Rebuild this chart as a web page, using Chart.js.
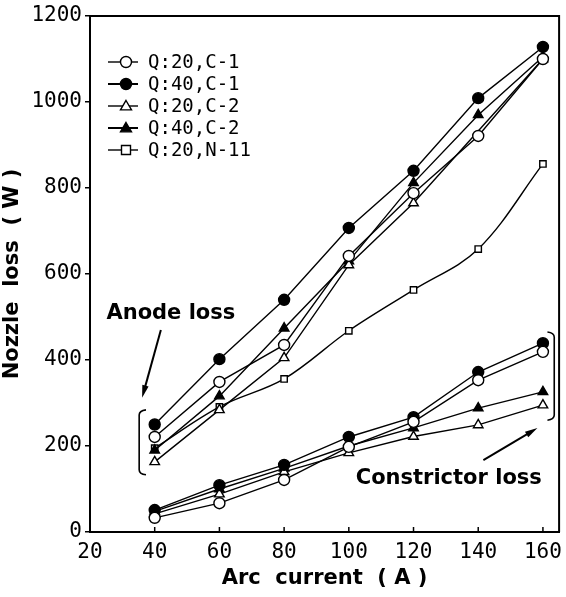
<!DOCTYPE html>
<html>
<head>
<meta charset="utf-8">
<script src="https://cdn.jsdelivr.net/npm/chart.js@4/dist/chart.umd.min.js"></script>
<style>
  html, body { margin: 0; padding: 0; background: #fff; }
  #wrap { width: 566px; height: 597px; }
</style>
</head>
<body>
<div id="wrap"><canvas id="c" width="566" height="597"></canvas></div>
<script>
// arc current (A)
const current = [40, 60, 80, 100, 120, 140, 160];

// anode loss (W)
const anodeQ20C1 = [221, 349, 435, 642, 788, 921, 1100];
const anodeQ40C1 = [250, 402, 540, 707, 840, 1009, 1128];
const anodeQ20C2 = [163, 284, 405, 621, 765, null, 1100];
const anodeQ40C2 = [190, 316, 474, 630, 812, 970, 1105];
const anodeQ20N11 = [195, 291, 356, 468, 563, 658, 856];

// constrictor loss (W)
const constrQ20C1 = [33, 67, 121, 198, 256, 353, 419];
const constrQ40C1 = [51, 109, 156, 221, 267, 372, 439];
const constrQ20C2 = [42, 88, 140, 184, 222, 249, 295];
const constrQ40C2 = [48, 100, 148, 200, 242, 288, 326];

const legendLabels = ["Q:20,C-1", "Q:40,C-1", "Q:20,C-2", "Q:40,C-2", "Q:20,N-11"];
const xTicks = [20, 40, 60, 80, 100, 120, 140, 160];
const yTicks = [0, 200, 400, 600, 800, 1000, 1200];

const TICK_FONT = { family: "DejaVu Sans Mono", size: 21 };
const TITLE_FONT = { family: "DejaVu Sans", size: 21, weight: "bold" };

const styles = [
  { pointStyle: "circle", radius: 5.5, fill: "#fff" },
  { pointStyle: "circle", radius: 5.5, fill: "#000" },
  { pointStyle: "triangle", radius: 5.5, fill: "#fff" },
  { pointStyle: "triangle", radius: 5.5, fill: "#000" },
  { pointStyle: "rect", radius: 4.5, fill: "#fff" },
];

function series(values, style, smooth) {
  return {
    data: current.map((x, i) => ({ x, y: values[i] })),
    borderColor: "#000",
    borderWidth: 1.4,
    pointStyle: style.pointStyle,
    pointRadius: style.radius,
    pointBackgroundColor: style.fill,
    pointBorderColor: "#000",
    pointBorderWidth: 1.4,
    spanGaps: true,
    tension: smooth ? 0.35 : 0,
  };
}

const datasets = [
  series(anodeQ20C1, styles[0]),
  series(anodeQ40C1, styles[1]),
  series(anodeQ20C2, styles[2]),
  series(anodeQ40C2, styles[3]),
  series(anodeQ20N11, styles[4], true),
  series(constrQ20C1, styles[0]),
  series(constrQ40C1, styles[1]),
  series(constrQ20C2, styles[2]),
  series(constrQ40C2, styles[3]),
];

function arrow(ctx, x1, y1, x2, y2) {
  const a = Math.atan2(y2 - y1, x2 - x1);
  ctx.beginPath();
  ctx.moveTo(x1, y1);
  ctx.lineTo(x2 - 8 * Math.cos(a), y2 - 8 * Math.sin(a));
  ctx.lineWidth = 2;
  ctx.stroke();
  ctx.beginPath();
  ctx.moveTo(x2, y2);
  ctx.lineTo(x2 - 13 * Math.cos(a - 0.25), y2 - 13 * Math.sin(a - 0.25));
  ctx.lineTo(x2 - 13 * Math.cos(a + 0.25), y2 - 13 * Math.sin(a + 0.25));
  ctx.closePath();
  ctx.fill();
}

// frame, x tick marks + labels, annotations and the line+marker legend
const extras = {
  id: "extras",
  afterDraw(chart) {
    const { ctx, chartArea: a, scales } = chart;
    const px = (v) => scales.x.getPixelForValue(v);
    const py = (v) => scales.y.getPixelForValue(v);
    ctx.save();
    ctx.strokeStyle = "#000";
    ctx.fillStyle = "#000";

    ctx.lineWidth = 2;
    ctx.beginPath();
    ctx.moveTo(a.left, a.top);
    ctx.lineTo(a.right, a.top);
    ctx.lineTo(a.right, a.bottom);
    ctx.stroke();

    // x ticks point inwards; labels drawn here so they may overhang the right edge
    ctx.lineWidth = 1.5;
    ctx.font = `${TICK_FONT.size}px '${TICK_FONT.family}'`;
    ctx.textAlign = "center";
    ctx.textBaseline = "middle";
    xTicks.forEach((t) => {
      if (t > xTicks[0]) {
        ctx.beginPath();
        ctx.moveTo(px(t), a.bottom);
        ctx.lineTo(px(t), a.bottom - 5);
        ctx.stroke();
      }
      ctx.fillText(String(t), px(t), a.bottom + 21);
    });

    // anode loss label, arrow and bracket
    ctx.font = "bold 21px 'DejaVu Sans'";
    ctx.fillText("Anode loss", px(45), py(509));
    arrow(ctx, px(41.9), py(470), px(36.1), py(312));
    ctx.lineWidth = 1.6;
    ctx.beginPath();
    ctx.moveTo(px(37.3), py(284));
    ctx.quadraticCurveTo(px(35.2), py(282), px(35.2), py(272));
    ctx.lineTo(px(35.2), py(145));
    ctx.quadraticCurveTo(px(35.2), py(135), px(37.3), py(133));
    ctx.stroke();

    // constrictor loss label, arrow and bracket
    ctx.fillText("Constrictor loss", px(130.9), py(124));
    arrow(ctx, px(141.6), py(167), px(158.3), py(242));
    ctx.lineWidth = 1.6;
    ctx.beginPath();
    ctx.moveTo(px(161.4), py(465));
    ctx.quadraticCurveTo(px(163.5), py(463), px(163.5), py(453));
    ctx.lineTo(px(163.5), py(272));
    ctx.quadraticCurveTo(px(163.5), py(262), px(161.4), py(260));
    ctx.stroke();

    // legend
    ctx.font = "19px 'DejaVu Sans Mono'";
    ctx.textAlign = "left";
    legendLabels.forEach((label, i) => {
      const y = a.top + 46 + i * 22;
      const x0 = a.left + 18;
      ctx.lineWidth = i === 1 || i === 3 ? 2 : 1.4;
      ctx.beginPath();
      ctx.moveTo(x0, y);
      ctx.lineTo(x0 + 30, y);
      ctx.stroke();
      const s = styles[i];
      ctx.fillStyle = s.fill;
      ctx.lineWidth = 1.4;
      ctx.beginPath();
      if (s.pointStyle === "circle") ctx.arc(x0 + 18, y, s.radius, 0, Math.PI * 2);
      else if (s.pointStyle === "rect") ctx.rect(x0 + 18 - s.radius, y - s.radius, s.radius * 2, s.radius * 2);
      else {
        ctx.moveTo(x0 + 18, y - s.radius);
        ctx.lineTo(x0 + 18 + s.radius, y + s.radius * 0.7);
        ctx.lineTo(x0 + 18 - s.radius, y + s.radius * 0.7);
        ctx.closePath();
      }
      ctx.fill();
      ctx.stroke();
      ctx.fillStyle = "#000";
      ctx.fillText(label, x0 + 40, y + 1);
    });
    ctx.restore();
  },
};

new Chart(document.getElementById("c"), {
  type: "line",
  data: { datasets },
  options: {
    responsive: false,
    animation: false,
    layout: { padding: { top: 16, right: 2, left: 0, bottom: 0 } },
    plugins: { legend: { display: false }, tooltip: { enabled: false } },
    scales: {
      x: {
        type: "linear",
        min: 20,
        max: 165,
        afterFit: (s) => { s.height = 65; s.paddingRight = 0; s.paddingLeft = 0; },
        afterBuildTicks: (s) => { s.ticks = xTicks.map((v) => ({ value: v })); },
        ticks: { display: false },
        grid: { display: false },
        border: { color: "#000", width: 2 },
        title: {
          display: true,
          text: "Arc  current  ( A )",
          color: "#000",
          font: TITLE_FONT,
          padding: { top: 0, bottom: 6 },
        },
      },
      y: {
        min: 0,
        max: 1200,
        afterFit: (s) => { s.width = 90; },
        afterBuildTicks: (s) => { s.ticks = yTicks.map((v) => ({ value: v })); },
        ticks: { color: "#000", font: TICK_FONT, padding: 3, callback: (v) => String(v) },
        grid: { drawOnChartArea: false, drawTicks: true, tickLength: 5, color: "#000", lineWidth: 1.5 },
        border: { color: "#000", width: 2 },
        title: {
          display: true,
          text: "Nozzle  loss  ( W )",
          color: "#000",
          font: TITLE_FONT,
          padding: { top: 0, bottom: 0 },
        },
      },
    },
  },
  plugins: [extras],
});
</script>
</body>
</html>
